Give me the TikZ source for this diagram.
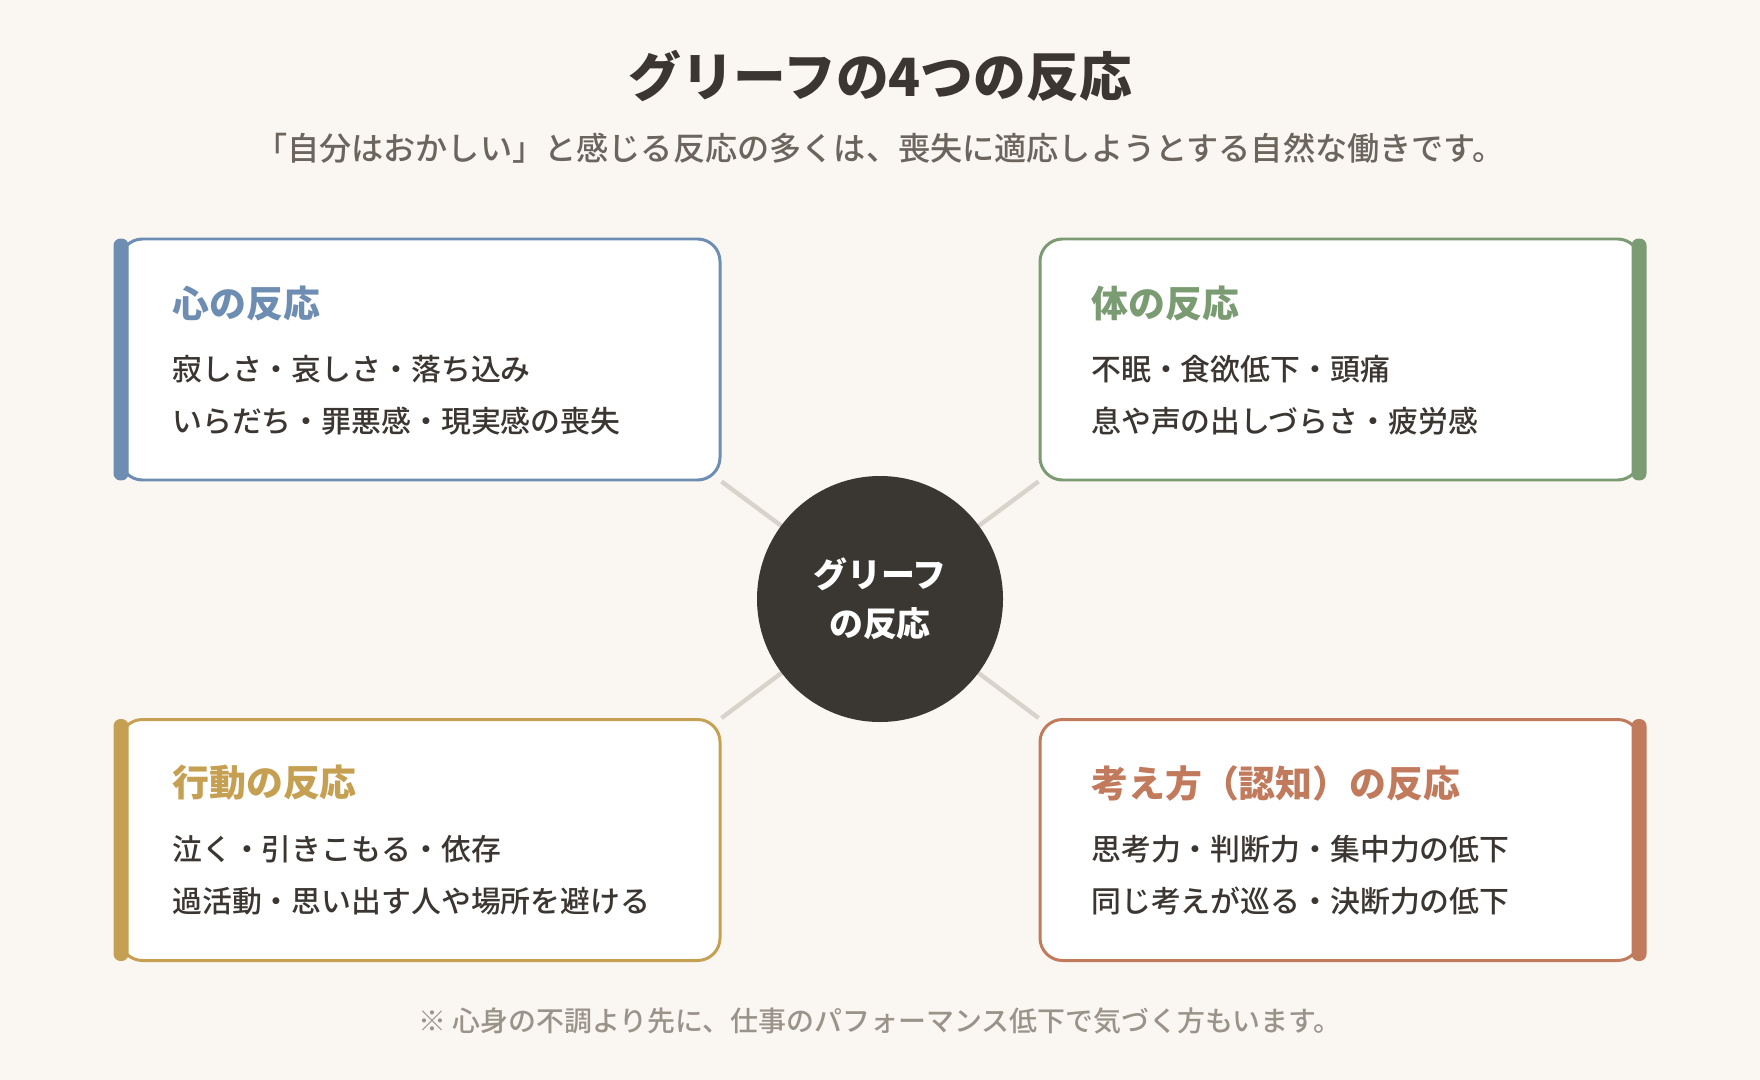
\documentclass[tikz,border=0pt]{standalone}
\usepackage{fontspec}
\setmainfont{Noto Sans CJK JP}
\newfontfamily\mediumfont{Noto Sans CJK JP Medium}
\usepackage{xcolor}
\usepackage{tikz}
\usetikzlibrary{positioning,backgrounds,calc}

\definecolor{paper}{HTML}{FAF7F2}
\definecolor{ink}{HTML}{3B3631}
\definecolor{subgray}{HTML}{6B655E}
\definecolor{notegray}{HTML}{9A938A}
\definecolor{linkgray}{HTML}{D9D4CB}
\definecolor{coredark}{HTML}{3A3632}
\definecolor{heartblue}{HTML}{6E8DB2}
\definecolor{bodygreen}{HTML}{7B9B73}
\definecolor{actgold}{HTML}{C6A052}
\definecolor{thinkterra}{HTML}{C17A5C}

\begin{document}
\begin{tikzpicture}[
    card/.style={draw, fill=white, line width=1.7pt, rounded corners=0.45cm, minimum width=12cm, minimum height=4.82cm},
    bar/.style={rounded corners=0.14cm},
    cardtitle/.style={anchor=west, inner sep=0pt, font=\fontsize{21}{25}\selectfont\bfseries},
    item/.style={anchor=west, inner sep=0pt, text=ink, font=\fontsize{17}{20}\selectfont\mediumfont},
    link/.style={draw=linkgray, line width=2.5pt}
]
    \useasboundingbox (0,0) rectangle (35.2,-21.6);

    % Heading
    \node[text=ink, font=\fontsize{30}{36}\selectfont\bfseries] (title) at (17.6,-1.52) {グリーフの4つの反応};
    \node[text=subgray, font=\fontsize{18.3}{22}\selectfont\mediumfont] (subtitle) at (17.6,-2.96) {「自分はおかしい」と感じる反応の多くは、喪失に適応しようとする自然な働きです。};

    % Centre
    \node[circle, fill=coredark, minimum size=4.92cm, text=white, align=center, font=\fontsize{19.3}{27.8}\selectfont\bfseries] (core) at (17.6,-11.98) {グリーフ\\の反応};

    % Four cards
    \node[card, draw=heartblue] (heart) at (8.4,-7.19) {};
    \node[card, draw=bodygreen] (body) at (26.8,-7.19) {};
    \node[card, draw=actgold] (act) at (8.4,-16.8) {};
    \node[card, draw=thinkterra] (think) at (26.8,-16.8) {};

    \fill[bar, heartblue] ($(heart.north west)+(-0.1,-0.02)$) rectangle ($(heart.south west)+(0.2,0.02)$);
    \fill[bar, bodygreen] ($(body.north east)+(0.1,-0.02)$) rectangle ($(body.south east)+(-0.2,0.02)$);
    \fill[bar, actgold] ($(act.north west)+(-0.1,-0.02)$) rectangle ($(act.south west)+(0.2,0.02)$);
    \fill[bar, thinkterra] ($(think.north east)+(0.1,-0.02)$) rectangle ($(think.south east)+(-0.2,0.02)$);

    % Card texts
    \node[cardtitle, text=heartblue] (hearthead) at (3.44,-6.06) {心の反応};
    \node[item] (heart1) at (3.44,-7.38) {寂しさ・哀しさ・落ち込み};
    \node[item] (heart2) at (3.44,-8.42) {いらだち・罪悪感・現実感の喪失};

    \node[cardtitle, text=bodygreen] (bodyhead) at (21.82,-6.06) {体の反応};
    \node[item] (body1) at (21.82,-7.38) {不眠・食欲低下・頭痛};
    \node[item] (body2) at (21.82,-8.42) {息や声の出しづらさ・疲労感};

    \node[cardtitle, text=actgold] (acthead) at (3.44,-15.66) {行動の反応};
    \node[item] (act1) at (3.44,-16.98) {泣く・引きこもる・依存};
    \node[item] (act2) at (3.44,-18.02) {過活動・思い出す人や場所を避ける};

    \node[cardtitle, text=thinkterra] (thinkhead) at (21.82,-15.66) {考え方（認知）の反応};
    \node[item] (think1) at (21.82,-16.98) {思考力・判断力・集中力の低下};
    \node[item] (think2) at (21.82,-18.02) {同じ考えが巡る・決断力の低下};

    % Footnote
    \node[text=notegray, font=\fontsize{15.9}{19}\selectfont\mediumfont] (note) at (17.6,-20.42) {※ 心身の不調より先に、仕事のパフォーマンス低下で気づく方もいます。};

    % Paper and spokes behind everything
    \begin{scope}[on background layer]
        \fill[paper] (0,0) rectangle (35.2,-21.6);
        \draw[link] (core.center) -- (heart.south east);
        \draw[link] (core.center) -- (body.south west);
        \draw[link] (core.center) -- (act.north east);
        \draw[link] (core.center) -- (think.north west);
    \end{scope}
\end{tikzpicture}
\end{document}
